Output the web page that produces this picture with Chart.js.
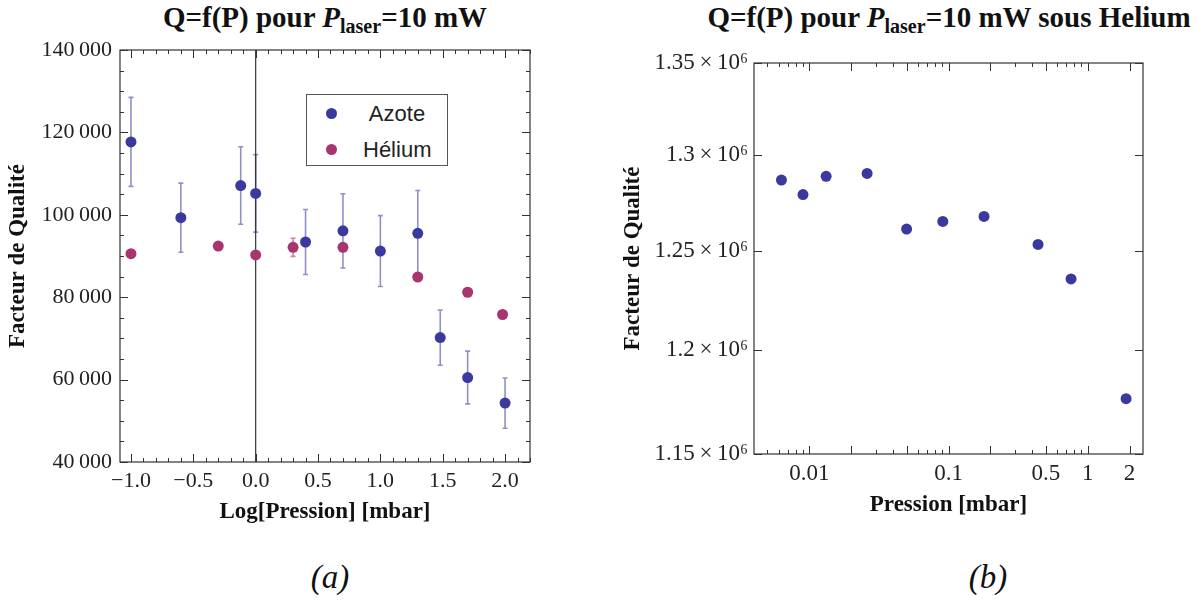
<!DOCTYPE html>
<html>
<head>
<meta charset="utf-8">
<script src="https://cdn.jsdelivr.net/npm/chart.js@4/dist/chart.umd.min.js"></script>
<style>
  body { margin: 0; background: #fff; width: 1203px; height: 601px; position: relative; overflow: hidden;
         font-family: 'Liberation Serif', 'Times New Roman', serif; color: #111; }
  .wrap { position: absolute; top: 0; height: 540px; }
  .title { position: absolute; top: 0; font-weight: bold; font-size: 29px; line-height: 34px;
           white-space: nowrap; transform: translateX(-50%); }
  .title sub { font-size: 20px; line-height: 0; vertical-align: -6px; }
  .cap { position: absolute; top: 558px; font-style: italic; font-size: 33px; line-height: 38px;
         transform: translateX(-50%); }
  #legend { position: absolute; left: 306px; top: 94px; width: 140px; height: 70px;
            border: 1.5px solid #555; background: #fff;
            font-family: 'Liberation Sans', Arial, sans-serif; font-size: 22px; color: #222; }
  #legend div { position: absolute; left: 0; width: 100%; height: 26px; line-height: 26px; }
  #legend i { position: absolute; left: 19px; top: 7px; width: 11px; height: 11px; border-radius: 50%; }
  #legend span { position: absolute; left: 56px; width: 68px; text-align: center; }
</style>
</head>
<body>
<div class="title" style="left:325px">Q=f(P) pour <i>P</i><sub>laser</sub>=10 mW</div>
<div class="title" style="left:949px">Q=f(P) pour <i>P</i><sub>laser</sub>=10 mW sous Helium</div>

<div class="wrap" style="left:0;width:600px"><canvas id="chartA" width="600" height="540"></canvas></div>
<div class="wrap" style="left:600px;width:603px"><canvas id="chartB" width="603" height="540"></canvas></div>

<div id="legend">
  <div style="top:6px"><i id="dotA"></i><span>Azote</span></div>
  <div style="top:42px"><i id="dotH"></i><span>Hélium</span></div>
</div>

<div class="cap" style="left:330px">(a)</div>
<div class="cap" style="left:988px">(b)</div>

<script>
// (a) Q vs log10(pressure), nitrogen and helium
const azoteLogP = [-1.0, -0.6, -0.12, 0.0, 0.4, 0.7, 1.0, 1.3, 1.48, 1.7, 2.0];
const azoteQ    = [117700, 99300, 107100, 105200, 93400, 96100, 91200, 95500, 70200, 60500, 54300];
const azoteErr  = [10800, 8400, 9400, 9400, 7900, 9000, 8600, 10400, 6700, 6400, 6100];

const heliumLogP = [-1.0, -0.3, 0.0, 0.3, 0.7, 1.3, 1.7, 1.98];
const heliumQ    = [90550, 92400, 90250, 92100, 92100, 84900, 81200, 75800];
const heliumErr  = [300, 500, 300, 2200, 500, 500, 800, 400];

const xTicksA  = [-1.0, -0.5, 0.0, 0.5, 1.0, 1.5, 2.0];
const xLabelsA = ['\u22121.0', '\u22120.5', '0.0', '0.5', '1.0', '1.5', '2.0'];
const yTicksA  = [40000, 60000, 80000, 100000, 120000, 140000];
const yLabelsA = ['40\u2009000', '60\u2009000', '80\u2009000', '100\u2009000', '120\u2009000', '140\u2009000'];

// (b) Q vs pressure under helium (log-log)
const pressureB = [0.0063, 0.0090, 0.0132, 0.026, 0.050, 0.091, 0.180, 0.44, 0.76, 1.89];
const qB        = [1286700, 1279100, 1288700, 1290200, 1261100, 1265100, 1267700, 1253200, 1235600, 1176400];

const xTicksB  = [0.01, 0.1, 0.5, 1, 2];
const xLabelsB = ['0.01', '0.1', '0.5', '1', '2'];
const xFrameMajorB = [0.01, 0.02, 0.05, 0.1, 0.2, 0.5, 1, 2];
const xFrameMinorB = [0.005, 0.006, 0.007, 0.008, 0.009, 0.03, 0.04, 0.06, 0.07, 0.08, 0.09,
                      0.3, 0.4, 0.6, 0.7, 0.8, 0.9];
const yTicksB  = [1150000, 1200000, 1250000, 1300000, 1350000];
const yLabelsB = ['1.15\u2009\u00d7\u200910\u2076', '1.2\u2009\u00d7\u200910\u2076', '1.25\u2009\u00d7\u200910\u2076',
                  '1.3\u2009\u00d7\u200910\u2076', '1.35\u2009\u00d7\u200910\u2076'];

const blue = 'rgb(58,58,158)';
const blueBar = 'rgba(70,70,165,0.6)';
const plum = 'rgb(168,52,112)';
const plumBar = 'rgba(168,52,112,0.6)';

document.getElementById('dotA').style.background = blue;
document.getElementById('dotH').style.background = plum;

Chart.defaults.font.family = "'Liberation Serif', 'Times New Roman', 'DejaVu Serif', serif";
Chart.defaults.color = '#222';

// error bars, drawn under the points
const errorBars = {
  id: 'errorBars',
  beforeDatasetsDraw(chart) {
    const ctx = chart.ctx;
    const {x, y} = chart.scales;
    chart.data.datasets.forEach(ds => {
      if (!ds.errors) return;
      ctx.save();
      ctx.strokeStyle = ds.errorColor;
      ctx.lineWidth = 1.6;
      ds.data.forEach((p, i) => {
        const px = x.getPixelForValue(p.x);
        const top = y.getPixelForValue(p.y + ds.errors[i]);
        const bot = y.getPixelForValue(p.y - ds.errors[i]);
        ctx.beginPath();
        ctx.moveTo(px, top); ctx.lineTo(px, bot);
        ctx.moveTo(px - 2.5, top); ctx.lineTo(px + 2.5, top);
        ctx.moveTo(px - 2.5, bot); ctx.lineTo(px + 2.5, bot);
        ctx.stroke();
      });
      ctx.restore();
    });
  }
};

// Mathematica-style frame with inward ticks on all four sides
const frame = {
  id: 'frame',
  beforeDatasetsDraw(chart, args, opts) {
    if (opts.zeroLine === undefined) return;
    const {ctx, chartArea: a} = chart;
    const px = chart.scales.x.getPixelForValue(opts.zeroLine);
    ctx.save();
    ctx.strokeStyle = '#333';
    ctx.lineWidth = 1.2;
    ctx.beginPath(); ctx.moveTo(px, a.top); ctx.lineTo(px, a.bottom); ctx.stroke();
    ctx.restore();
  },
  afterDatasetsDraw(chart, args, opts) {
    const {ctx, chartArea: a} = chart;
    const {x, y} = chart.scales;
    ctx.save();
    ctx.strokeStyle = '#333';
    ctx.lineWidth = 1.2;
    ctx.strokeRect(a.left, a.top, a.right - a.left, a.bottom - a.top);
    ctx.lineWidth = 1;
    const xt = (vals, len) => vals.forEach(v => {
      if (v < x.min || v > x.max) return;
      const p = Math.round(x.getPixelForValue(v)) + 0.5;
      ctx.beginPath();
      ctx.moveTo(p, a.bottom); ctx.lineTo(p, a.bottom - len);
      ctx.moveTo(p, a.top); ctx.lineTo(p, a.top + len);
      ctx.stroke();
    });
    const yt = (vals, len) => vals.forEach(v => {
      if (v < y.min || v > y.max) return;
      const p = Math.round(y.getPixelForValue(v)) + 0.5;
      ctx.beginPath();
      ctx.moveTo(a.left, p); ctx.lineTo(a.left + len, p);
      ctx.moveTo(a.right, p); ctx.lineTo(a.right - len, p);
      ctx.stroke();
    });
    xt(opts.xMajor, 8); xt(opts.xMinor || [], 4);
    yt(opts.yMajor, 8); yt(opts.yMinor || [], 4);
    ctx.restore();
  }
};

// minor ticks for (a)
const xMinorA = [], yMinorA = [];
for (let v = -10; v <= 22; v++) xMinorA.push(v / 10);
for (let v = 40000; v <= 140000; v += 5000) yMinorA.push(v);

const axisTitleFont = {size: 23, weight: 'bold'};

new Chart(document.getElementById('chartA'), {
  type: 'scatter',
  data: {
    datasets: [
      {
        label: 'Azote',
        data: azoteLogP.map((v, i) => ({x: v, y: azoteQ[i]})),
        errors: azoteErr, errorColor: blueBar,
        backgroundColor: blue, pointRadius: 5.5, borderWidth: 0
      },
      {
        label: 'Hélium',
        data: heliumLogP.map((v, i) => ({x: v, y: heliumQ[i]})),
        errors: heliumErr, errorColor: plumBar,
        backgroundColor: plum, pointRadius: 5.5, borderWidth: 0
      }
    ]
  },
  options: {
    responsive: false,
    animation: false,
    events: [],
    layout: {padding: {left: 0, top: 50, right: 70, bottom: 0}},
    plugins: {
      legend: {display: false},
      tooltip: {enabled: false},
      frame: {zeroLine: 0, xMajor: xTicksA, xMinor: xMinorA, yMajor: yTicksA, yMinor: yMinorA}
    },
    scales: {
      x: {
        type: 'linear', min: -1.088, max: 2.2,
        grid: {display: false, drawTicks: false}, border: {display: false},
        afterBuildTicks: s => { s.ticks = xTicksA.map(v => ({value: v})); },
        afterFit: s => { s.height = 78; },
        ticks: {font: {size: 22}, padding: 6, maxRotation: 0, callback: (v, i) => xLabelsA[i]},
        title: {display: true, text: 'Log[Pression] [mbar]', font: axisTitleFont, color: '#111', padding: {bottom: 14}}
      },
      y: {
        min: 40000, max: 140000,
        grid: {display: false, drawTicks: false}, border: {display: false},
        afterBuildTicks: s => { s.ticks = yTicksA.map(v => ({value: v})); },
        afterFit: s => { s.width = 120; },
        ticks: {font: {size: 22}, padding: 8, callback: (v, i) => yLabelsA[i]},
        title: {display: true, text: 'Facteur de Qualité', font: axisTitleFont, color: '#111', padding: {top: 4}}
      }
    }
  },
  plugins: [errorBars, frame]
});

new Chart(document.getElementById('chartB'), {
  type: 'scatter',
  data: {
    datasets: [{
      label: 'Helium',
      data: pressureB.map((v, i) => ({x: v, y: qB[i]})),
      backgroundColor: blue, pointRadius: 5.5, borderWidth: 0
    }]
  },
  options: {
    responsive: false,
    animation: false,
    events: [],
    layout: {padding: {left: 0, top: 63, right: 60, bottom: 0}},
    plugins: {
      legend: {display: false},
      tooltip: {enabled: false},
      frame: {xMajor: xFrameMajorB, xMinor: xFrameMinorB, yMajor: yTicksB}
    },
    scales: {
      x: {
        type: 'logarithmic', min: 0.004, max: 2.5,
        grid: {display: false, drawTicks: false}, border: {display: false},
        afterBuildTicks: s => { s.ticks = xTicksB.map(v => ({value: v})); },
        afterFit: s => { s.height = 86; },
        ticks: {font: {size: 23}, padding: 6, maxRotation: 0, autoSkip: false, callback: (v, i) => xLabelsB[i]},
        title: {display: true, text: 'Pression [mbar]', font: axisTitleFont, color: '#111', padding: {bottom: 21}}
      },
      y: {
        type: 'logarithmic', min: 1150000, max: 1350000,
        grid: {display: false, drawTicks: false}, border: {display: false},
        afterBuildTicks: s => { s.ticks = yTicksB.map(v => ({value: v})); },
        afterFit: s => { s.width = 154; },
        ticks: {font: {size: 23}, padding: 6, autoSkip: false, callback: (v, i) => yLabelsB[i]},
        title: {display: true, text: 'Facteur de Qualité', font: axisTitleFont, color: '#111', padding: {top: 19}}
      }
    }
  },
  plugins: [frame]
});
</script>
</body>
</html>
